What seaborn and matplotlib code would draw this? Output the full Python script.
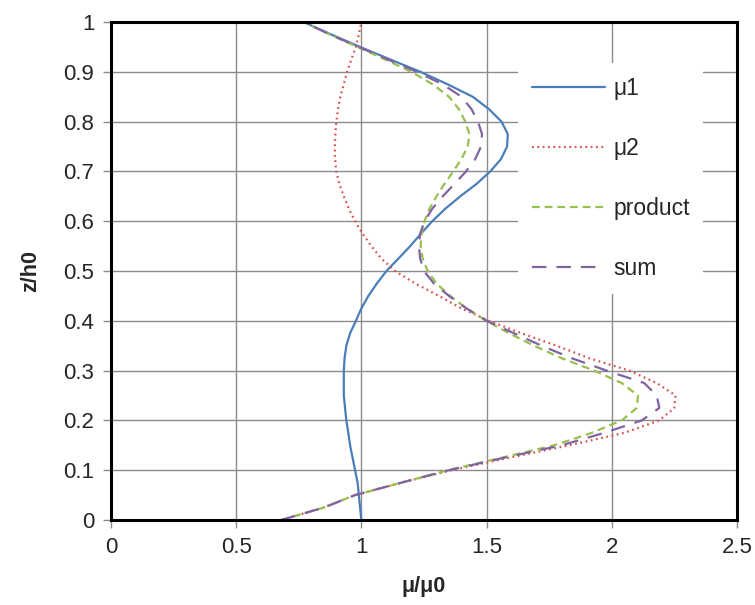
import numpy as np
import pandas as pd
import matplotlib
matplotlib.use("Agg")
import matplotlib.pyplot as plt
from matplotlib.ticker import FuncFormatter
import seaborn as sns

# z/h0 positions (shared by all four profiles)
z_vals = [0, 0.025, 0.05, 0.075, 0.1, 0.125, 0.15, 0.175, 0.2, 0.225,
          0.25, 0.275, 0.3, 0.325, 0.35, 0.375, 0.4, 0.425, 0.45, 0.475,
          0.5, 0.525, 0.55, 0.575, 0.6, 0.625, 0.65, 0.675, 0.7, 0.725,
          0.75, 0.775, 0.8, 0.825, 0.85, 0.875, 0.9, 0.925, 0.95, 0.975, 1.0]

# mu/mu0 profiles
mu1 = [1.00, 0.995, 0.99, 0.985, 0.975, 0.965, 0.955, 0.948, 0.94, 0.935,
       0.93, 0.93, 0.93, 0.933, 0.94, 0.955, 0.978, 1.0, 1.028, 1.062,
       1.10, 1.148, 1.195, 1.238, 1.283, 1.335, 1.395, 1.46, 1.515, 1.558,
       1.582, 1.585, 1.56, 1.51, 1.445, 1.345, 1.236, 1.115, 0.995, 0.88, 0.77]

mu2 = [0.68, 0.85, 0.975, 1.16, 1.36, 1.59, 1.83, 2.05, 2.19, 2.25,
       2.255, 2.18, 2.07, 1.91, 1.78, 1.64, 1.51, 1.40, 1.31, 1.215,
       1.135, 1.08, 1.04, 1.005, 0.975, 0.95, 0.93, 0.912, 0.90, 0.895,
       0.894, 0.896, 0.90, 0.907, 0.916, 0.93, 0.943, 0.96, 0.978, 0.99, 1.0]

product = [0.68, 0.85, 0.975, 1.16, 1.345, 1.56, 1.77, 1.92, 2.04, 2.10,
           2.105, 2.04, 1.93, 1.80, 1.69, 1.59, 1.50, 1.42, 1.355, 1.30,
           1.265, 1.245, 1.237, 1.24, 1.252, 1.272, 1.30, 1.332, 1.367, 1.40,
           1.425, 1.432, 1.415, 1.39, 1.35, 1.285, 1.2, 1.095, 0.985, 0.875, 0.77]

sum_ = [0.68, 0.85, 0.975, 1.16, 1.35, 1.57, 1.80, 1.97, 2.12, 2.19,
        2.18, 2.13, 1.98, 1.84, 1.72, 1.61, 1.50, 1.42, 1.35, 1.29,
        1.25, 1.235, 1.23, 1.235, 1.252, 1.283, 1.325, 1.372, 1.418, 1.455,
        1.478, 1.482, 1.466, 1.44, 1.40, 1.325, 1.222, 1.105, 0.99, 0.875, 0.77]

series_names = ["μ1", "μ2", "product", "sum"]
x_ticks = [0, 0.5, 1, 1.5, 2, 2.5]
y_ticks = [0, 0.1, 0.2, 0.3, 0.4, 0.5, 0.6, 0.7, 0.8, 0.9, 1.0]

colors = {"μ1": "#4A7EBB", "μ2": "#D9514E", "product": "#98C04F", "sum": "#8064A2"}
dashes = {"μ1": "", "μ2": (0.8, 1.6), "product": (3.5, 2.2), "sum": (6.5, 4.5)}

rows = []
for name, vals in zip(series_names, [mu1, mu2, product, sum_]):
    for zz, mm in zip(z_vals, vals):
        rows.append({"series": name, "mu": mm, "z": zz})
df = pd.DataFrame(rows)

sns.set_style("white")
plt.rcParams["font.family"] = ["Liberation Sans", "DejaVu Sans"]

fig = plt.figure(figsize=(7.55, 6.05), dpi=100)
ax = fig.add_axes([0.147, 0.1405, 0.829, 0.823])

sns.lineplot(data=df, x="mu", y="z", hue="series", style="series",
             palette=colors, dashes=dashes, sort=False, estimator=None,
             linewidth=1.6, legend=False, ax=ax)

ax.set_xlim(0, 2.5)
ax.set_ylim(0, 1)
ax.set_xticks(x_ticks)
ax.set_yticks(y_ticks)
fmt = FuncFormatter(lambda v, p: f"{v:g}")
ax.xaxis.set_major_formatter(fmt)
ax.yaxis.set_major_formatter(fmt)
ax.grid(True, color="#8C8C8C", linewidth=1.0)
ax.set_axisbelow(True)
for sp in ax.spines.values():
    sp.set_color("black")
    sp.set_linewidth(2.2)
ax.tick_params(axis="both", which="major", direction="out", length=6,
               width=1, color="#8C8C8C", labelsize=16, pad=6, bottom=True, left=True)

ax.set_xlabel("μ/μ0", fontsize=15.5, fontweight="bold", labelpad=13)
ax.set_ylabel("z/h0", fontsize=15.5, fontweight="bold", labelpad=16)

handles = ax.get_lines()[:4]
leg = ax.legend(handles, series_names, loc="upper left",
                bbox_to_anchor=(0.632, 0.94), fontsize=16.5, handlelength=3.2,
                labelspacing=1.61, frameon=True, framealpha=1,
                facecolor="white", edgecolor="none", borderpad=0.6,
                handletextpad=0.35)
leg.get_frame().set_boxstyle("square", pad=0)

fig.savefig("out.png", dpi=100)
